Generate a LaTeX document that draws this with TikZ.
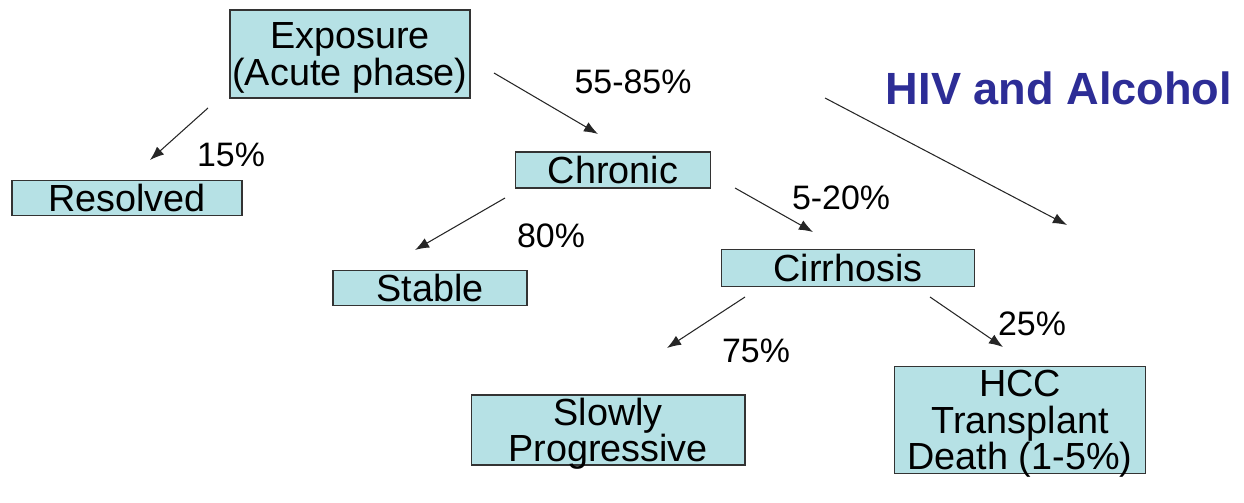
\documentclass[tikz,border=0pt]{standalone}
\usepackage{fontspec}
\setmainfont{Liberation Sans}
\usetikzlibrary{arrows.meta,positioning}
\definecolor{boxcyan}{RGB}{182,225,229}
\definecolor{titleblue}{RGB}{45,45,150}

\begin{document}
\begin{tikzpicture}[>={Latex[length=8pt,width=6pt]}, x=0.02cm, y=-0.02cm,
    box/.style={line width=0.6pt, shape=rectangle, draw=black!80, fill=boxcyan,
      align=center, inner sep=0pt, font=\fontsize{21.5}{20.7}\selectfont},
    tallbox/.style={box, text depth=0pt},
    pct/.style={font=\fontsize{19.3}{20}\selectfont},
    link/.style={line width=0.6pt, draw=black!85, ->}]
\useasboundingbox (0,0) rectangle (1244,503);
% boxes
\node[tallbox, minimum width=4.8cm, minimum height=1.76cm] (exposure) at (350,54) {Exposure\\(Acute phase)};
\node[box, minimum width=4.6cm, minimum height=0.7cm] (resolved) at (127,198) {Resolved};
\node[box, minimum width=3.9cm, minimum height=0.72cm] (chronic) at (613,170) {Chronic};
\node[box, minimum width=3.88cm, minimum height=0.7cm] (stable) at (430,288) {Stable};
\node[box, minimum width=5.06cm, minimum height=0.74cm] (cirrhosis) at (848,268) {Cirrhosis};
\node[tallbox, minimum width=5.48cm, minimum height=1.4cm] (slowly) at (608,430) {Slowly\\Progressive};
\node[tallbox, minimum width=5.02cm, minimum height=2.14cm] (hcc) at (1020,420) {HCC\\Transplant\\Death (1-5\%)};
% title
\node[font=\fontsize{25.7}{28}\selectfont\bfseries, text=titleblue] (title) at (1059,88) {HIV and Alcohol};
% arrow ends
\coordinate (p1) at (208,108);  \coordinate (q1) at (150,160);
\coordinate (p2) at (494,73);   \coordinate (q2) at (598,134);
\coordinate (p3) at (825,98);   \coordinate (q3) at (1067,225);
\coordinate (p4) at (505,198);  \coordinate (q4) at (415,250);
\coordinate (p5) at (735,188);  \coordinate (q5) at (813,232);
\coordinate (p6) at (745,297);  \coordinate (q6) at (667,348);
\coordinate (p7) at (930,297);  \coordinate (q7) at (1003,347);
\draw[link] (p1) -- (q1);
\draw[link] (p2) -- (q2);
\draw[link] (p3) -- (q3);
\draw[link] (p4) -- (q4);
\draw[link] (p5) -- (q5);
\draw[link] (p6) -- (q6);
\draw[link] (p7) -- (q7);
% percentages
\node[pct] (l1) at (231,155) {15\%};
\node[pct] (l2) at (633,82) {55-85\%};
\node[pct] (l4) at (551,236) {80\%};
\node[pct] (l5) at (841,198) {5-20\%};
\node[pct] (l6) at (756,351) {75\%};
\node[pct] (l7) at (1032,324) {25\%};
\end{tikzpicture}
\end{document}
